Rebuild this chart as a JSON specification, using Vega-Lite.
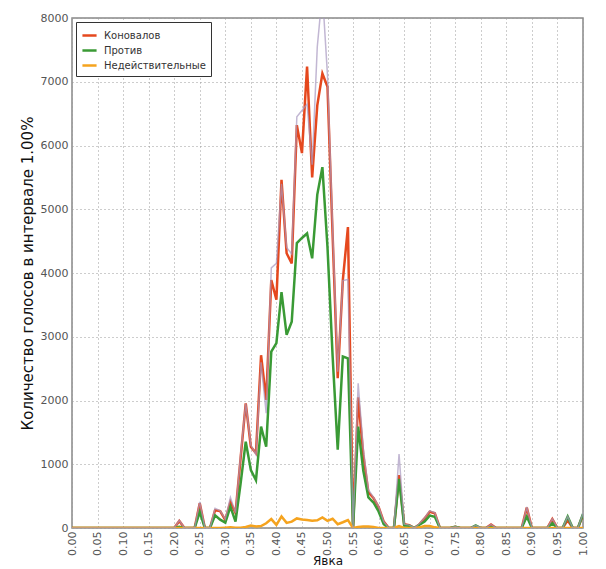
{
  "$schema": "https://vega.github.io/schema/vega-lite/v6.json",
  "width": 511,
  "height": 510,
  "autosize": {"type": "none"},
  "padding": {"left": 72, "top": 18, "right": 23, "bottom": 41},
  "config": {
    "font": "DejaVu Sans",
    "view": {"stroke": "#888888", "strokeWidth": 1.5},
    "axis": {
      "domain": false,
      "grid": true,
      "gridDash": [1, 3],
      "gridColor": "#9a9a9a",
      "gridWidth": 1,
      "labelColor": "#555555",
      "labelFontSize": 11,
      "titleColor": "#111111",
      "titleFontWeight": "normal",
      "ticks": false
    },
    "legend": {
      "strokeColor": "#333333",
      "fillColor": "#ffffff",
      "padding": 5,
      "labelFontSize": 10,
      "labelColor": "#333333",
      "symbolType": "stroke",
      "symbolSize": 200,
      "symbolStrokeWidth": 2.5,
      "labelOffset": 6,
      "rowPadding": 1
    }
  },
  "data": {
    "values": [
      {"x": 0.00, "k": 0, "p": 0, "n": 0, "g": 0},
      {"x": 0.01, "k": 0, "p": 0, "n": 0, "g": 0},
      {"x": 0.02, "k": 0, "p": 0, "n": 0, "g": 0},
      {"x": 0.03, "k": 0, "p": 0, "n": 0, "g": 0},
      {"x": 0.04, "k": 0, "p": 0, "n": 0, "g": 0},
      {"x": 0.05, "k": 0, "p": 0, "n": 0, "g": 0},
      {"x": 0.06, "k": 0, "p": 0, "n": 0, "g": 0},
      {"x": 0.07, "k": 0, "p": 0, "n": 0, "g": 0},
      {"x": 0.08, "k": 0, "p": 0, "n": 0, "g": 0},
      {"x": 0.09, "k": 0, "p": 0, "n": 0, "g": 0},
      {"x": 0.10, "k": 0, "p": 0, "n": 0, "g": 0},
      {"x": 0.11, "k": 0, "p": 0, "n": 0, "g": 0},
      {"x": 0.12, "k": 0, "p": 0, "n": 0, "g": 0},
      {"x": 0.13, "k": 0, "p": 0, "n": 0, "g": 0},
      {"x": 0.14, "k": 0, "p": 0, "n": 0, "g": 0},
      {"x": 0.15, "k": 0, "p": 0, "n": 0, "g": 0},
      {"x": 0.16, "k": 0, "p": 0, "n": 0, "g": 0},
      {"x": 0.17, "k": 0, "p": 0, "n": 0, "g": 0},
      {"x": 0.18, "k": 0, "p": 0, "n": 0, "g": 0},
      {"x": 0.19, "k": 0, "p": 0, "n": 0, "g": 0},
      {"x": 0.20, "k": 0, "p": 0, "n": 0, "g": 0},
      {"x": 0.21, "k": 110, "p": 20, "n": 0, "g": 120},
      {"x": 0.22, "k": 0, "p": 0, "n": 0, "g": 0},
      {"x": 0.23, "k": 0, "p": 0, "n": 0, "g": 0},
      {"x": 0.24, "k": 0, "p": 0, "n": 0, "g": 0},
      {"x": 0.25, "k": 390, "p": 250, "n": 0, "g": 410},
      {"x": 0.26, "k": 0, "p": 0, "n": 0, "g": 0},
      {"x": 0.27, "k": 0, "p": 0, "n": 0, "g": 0},
      {"x": 0.28, "k": 280, "p": 200, "n": 0, "g": 310},
      {"x": 0.29, "k": 265, "p": 130, "n": 0, "g": 270},
      {"x": 0.30, "k": 125, "p": 85, "n": 5, "g": 140},
      {"x": 0.31, "k": 410, "p": 335, "n": 10, "g": 480},
      {"x": 0.32, "k": 235, "p": 100, "n": 5, "g": 240},
      {"x": 0.33, "k": 1100, "p": 700, "n": 5, "g": 1150},
      {"x": 0.34, "k": 1955, "p": 1355, "n": 15, "g": 1950},
      {"x": 0.35, "k": 1275, "p": 910, "n": 40, "g": 1300},
      {"x": 0.36, "k": 1175, "p": 750, "n": 25, "g": 1150},
      {"x": 0.37, "k": 2710, "p": 1590, "n": 30, "g": 2600},
      {"x": 0.38, "k": 2010, "p": 1275, "n": 75, "g": 1800},
      {"x": 0.39, "k": 3890, "p": 2765, "n": 140, "g": 4080},
      {"x": 0.40, "k": 3580, "p": 2900, "n": 50, "g": 4150},
      {"x": 0.41, "k": 5460, "p": 3700, "n": 180, "g": 5400},
      {"x": 0.42, "k": 4310, "p": 3030, "n": 80, "g": 4400},
      {"x": 0.43, "k": 4150, "p": 3235, "n": 100, "g": 4300},
      {"x": 0.44, "k": 6320, "p": 4470, "n": 150, "g": 6450},
      {"x": 0.45, "k": 5880, "p": 4550, "n": 135, "g": 6550},
      {"x": 0.46, "k": 7240, "p": 4620, "n": 125, "g": 6650},
      {"x": 0.47, "k": 5500, "p": 4230, "n": 115, "g": 5700},
      {"x": 0.48, "k": 6630, "p": 5230, "n": 120, "g": 7550},
      {"x": 0.49, "k": 7130, "p": 5660, "n": 165, "g": 8400},
      {"x": 0.50, "k": 6920, "p": 4400, "n": 112, "g": 7100},
      {"x": 0.51, "k": 4600, "p": 2700, "n": 145, "g": 4700},
      {"x": 0.52, "k": 2350, "p": 1230, "n": 60, "g": 2450},
      {"x": 0.53, "k": 3890, "p": 2690, "n": 90, "g": 3880},
      {"x": 0.54, "k": 4720, "p": 2660, "n": 125, "g": 3900},
      {"x": 0.55, "k": 0, "p": 0, "n": 0, "g": 0},
      {"x": 0.56, "k": 2050, "p": 1590, "n": 15, "g": 2270},
      {"x": 0.57, "k": 1150, "p": 900, "n": 25, "g": 1250},
      {"x": 0.58, "k": 560, "p": 480, "n": 25, "g": 600},
      {"x": 0.59, "k": 470, "p": 400, "n": 15, "g": 480},
      {"x": 0.60, "k": 330, "p": 260, "n": 0, "g": 340},
      {"x": 0.61, "k": 100, "p": 60, "n": 0, "g": 100},
      {"x": 0.62, "k": 0, "p": 0, "n": 0, "g": 0},
      {"x": 0.63, "k": 0, "p": 0, "n": 0, "g": 0},
      {"x": 0.64, "k": 830, "p": 770, "n": 30, "g": 1160},
      {"x": 0.65, "k": 60, "p": 40, "n": 0, "g": 60},
      {"x": 0.66, "k": 45, "p": 35, "n": 0, "g": 45},
      {"x": 0.67, "k": 0, "p": 0, "n": 0, "g": 0},
      {"x": 0.68, "k": 60, "p": 50, "n": 10, "g": 70},
      {"x": 0.69, "k": 150, "p": 100, "n": 30, "g": 160},
      {"x": 0.70, "k": 255, "p": 195, "n": 30, "g": 270},
      {"x": 0.71, "k": 230, "p": 175, "n": 10, "g": 240},
      {"x": 0.72, "k": 0, "p": 0, "n": 0, "g": 0},
      {"x": 0.73, "k": 0, "p": 0, "n": 0, "g": 0},
      {"x": 0.74, "k": 0, "p": 0, "n": 0, "g": 0},
      {"x": 0.75, "k": 20, "p": 20, "n": 0, "g": 20},
      {"x": 0.76, "k": 0, "p": 0, "n": 0, "g": 0},
      {"x": 0.77, "k": 0, "p": 0, "n": 0, "g": 0},
      {"x": 0.78, "k": 0, "p": 0, "n": 0, "g": 0},
      {"x": 0.79, "k": 25, "p": 40, "n": 0, "g": 40},
      {"x": 0.80, "k": 0, "p": 0, "n": 0, "g": 0},
      {"x": 0.81, "k": 0, "p": 0, "n": 0, "g": 0},
      {"x": 0.82, "k": 55, "p": 15, "n": 0, "g": 55},
      {"x": 0.83, "k": 0, "p": 0, "n": 0, "g": 0},
      {"x": 0.84, "k": 0, "p": 0, "n": 0, "g": 0},
      {"x": 0.85, "k": 0, "p": 0, "n": 0, "g": 0},
      {"x": 0.86, "k": 0, "p": 0, "n": 0, "g": 0},
      {"x": 0.87, "k": 0, "p": 0, "n": 0, "g": 0},
      {"x": 0.88, "k": 0, "p": 0, "n": 0, "g": 0},
      {"x": 0.89, "k": 320, "p": 180, "n": 0, "g": 330},
      {"x": 0.90, "k": 0, "p": 0, "n": 0, "g": 0},
      {"x": 0.91, "k": 0, "p": 0, "n": 0, "g": 0},
      {"x": 0.92, "k": 0, "p": 0, "n": 0, "g": 0},
      {"x": 0.93, "k": 0, "p": 0, "n": 0, "g": 0},
      {"x": 0.94, "k": 140, "p": 75, "n": 0, "g": 145},
      {"x": 0.95, "k": 0, "p": 0, "n": 0, "g": 0},
      {"x": 0.96, "k": 0, "p": 0, "n": 0, "g": 0},
      {"x": 0.97, "k": 120, "p": 180, "n": 0, "g": 180},
      {"x": 0.98, "k": 0, "p": 0, "n": 0, "g": 0},
      {"x": 0.99, "k": 0, "p": 0, "n": 0, "g": 0},
      {"x": 1.00, "k": 200, "p": 220, "n": 0, "g": 230}
    ]
  },
  "encoding": {
    "x": {
      "field": "x",
      "type": "quantitative",
      "scale": {"domain": [0, 1], "nice": false},
      "axis": {
        "values": [0, 0.05, 0.1, 0.15, 0.2, 0.25, 0.3, 0.35, 0.4, 0.45, 0.5, 0.55, 0.6, 0.65, 0.7, 0.75, 0.8, 0.85, 0.9, 0.95, 1],
        "format": ".2f",
        "labelAngle": -90,
        "labelPadding": 3,
        "title": "Явка",
        "titleFontSize": 12,
        "titlePadding": 0
      }
    }
  },
  "layer": [
    {
      "transform": [{"fold": ["k", "p", "n"], "as": ["series", "votes"]}],
      "mark": {"type": "line", "strokeWidth": 2.5, "clip": true},
      "encoding": {
        "y": {
          "field": "votes",
          "type": "quantitative",
          "scale": {"domain": [0, 8000], "nice": false},
          "axis": {
            "values": [0, 1000, 2000, 3000, 4000, 5000, 6000, 7000, 8000],
            "format": "d",
            "labelPadding": 4,
            "title": "Количество голосов в интервале 1.00%",
            "titleFontSize": 15,
            "titlePadding": 5
          }
        },
        "color": {
          "field": "series",
          "type": "nominal",
          "scale": {"domain": ["k", "p", "n"], "range": ["#e5481e", "#3a9a35", "#f5a31e"]},
          "legend": {
            "title": null,
            "orient": "none",
            "legendX": 4,
            "legendY": 4,
            "labelExpr": "datum.label == 'k' ? 'Коновалов' : datum.label == 'p' ? 'Против' : 'Недействительные'"
          }
        }
      }
    },
    {
      "mark": {"type": "line", "strokeWidth": 1.5, "color": "#a898c0", "opacity": 0.7, "clip": true},
      "encoding": {
        "y": {"field": "g", "type": "quantitative", "title": "Количество голосов в интервале 1.00%"}
      }
    }
  ]
}
